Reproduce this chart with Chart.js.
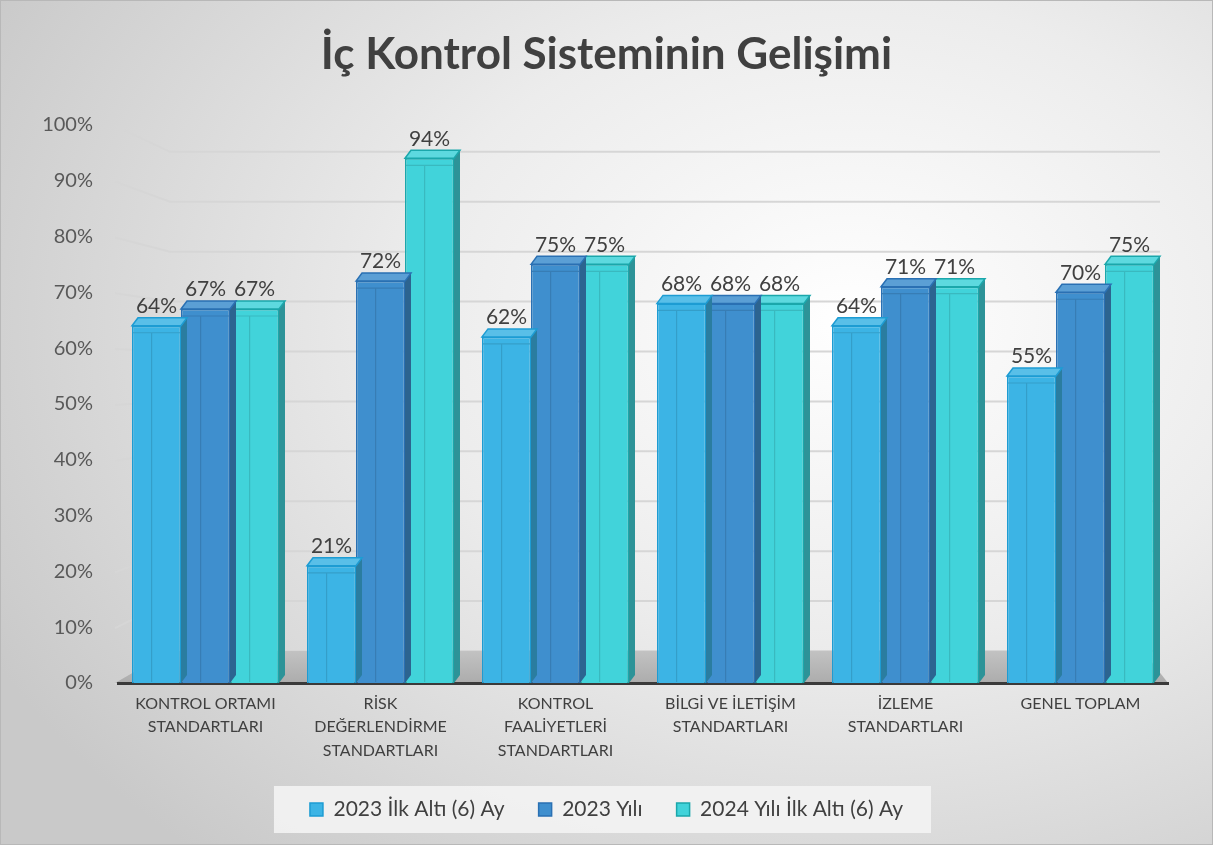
<!DOCTYPE html>
<html><head><meta charset="utf-8">
<script src="https://cdn.jsdelivr.net/npm/chart.js@4.4.1/dist/chart.umd.min.js"></script>
<style>
html,body{margin:0;padding:0;background:#fff;}
#wrap{position:relative;width:1213px;height:845px;
 background:radial-gradient(ellipse 80% 85% at 70% 38%, #ffffff 0%, #ececec 45%, #c9c9c9 100%);
 box-shadow: inset 0 0 0 1px #b8b8b8;}
canvas{display:block}
</style></head><body>
<div id="wrap"><canvas id="c" width="1213" height="845"></canvas></div>
<script>
const categories = [
  ["KONTROL ORTAMI","STANDARTLARI"],
  ["RİSK","DEĞERLENDİRME","STANDARTLARI"],
  ["KONTROL","FAALİYETLERİ","STANDARTLARI"],
  ["BİLGİ VE İLETİŞİM","STANDARTLARI"],
  ["İZLEME","STANDARTLARI"],
  ["GENEL TOPLAM"]
];
const seriesNames = ["2023 İlk Altı (6) Ay","2023 Yılı","2024 Yılı İlk Altı (6) Ay"];
const firstHalf2023 = [64,21,62,68,64,55];
const year2023      = [67,72,75,68,71,70];
const firstHalf2024 = [67,94,75,68,71,75];
const yTickStep = 10;
const yMax = 100;

const fills   = ['#3cb4e5','#3f8fce','#41d3da'];
const borders = ['#1d9cd3','#2a70b3','#1ba7ab'];
const FONT = 'Lato';

function shade(hex, amt){
  const n=parseInt(hex.slice(1),16);let r=n>>16,g=(n>>8)&255,b=n&255;
  if(amt>0){r+= (255-r)*amt;g+=(255-g)*amt;b+=(255-b)*amt;}
  else {r*=1+amt;g*=1+amt;b*=1+amt;}
  return `rgb(${r|0},${g|0},${b|0})`;
}

const backdrop = {
  id:'backdrop',
  beforeDraw(chart){
    const {ctx, chartArea:ca} = chart;
    const ys = chart.scales.y;
    const lg = chart.legend;
    if(lg && lg.legendHitBoxes && lg.legendHitBoxes.length){
      const hb = lg.legendHitBoxes;
      const x0 = hb[0].left - 36, x1 = hb[hb.length-1].left + hb[hb.length-1].width + 28;
      const cy = hb[0].top + hb[0].height/2;
      ctx.save();
      ctx.fillStyle='rgba(243,243,243,0.9)';
      ctx.fillRect(x0, cy-23.5, x1-x0, 47);
      ctx.restore();
    }
    const backBottom = ca.bottom - 32, backTop = ca.top + 27;
    ctx.save();
    ctx.strokeStyle='#d6d6d6'; ctx.lineWidth=2;
    ys.ticks.forEach(t=>{
      const y = ys.getPixelForValue(t.value);
      const f = (ca.bottom - y)/(ca.bottom - ca.top);
      const yb = backBottom - f*(backBottom-backTop);
      ctx.beginPath();
      ctx.moveTo(ca.left-3, y+1);
      ctx.lineTo(ca.left+52, yb);
      ctx.lineTo(ca.right-8, yb);
      ctx.stroke();
    });
    const g = ctx.createLinearGradient(0, backBottom, 0, ca.bottom);
    g.addColorStop(0,'#c2c2c2'); g.addColorStop(1,'#acacac');
    ctx.fillStyle=g;
    ctx.beginPath();
    ctx.moveTo(ca.left-3, ca.bottom);
    ctx.lineTo(ca.left+52, backBottom);
    ctx.lineTo(ca.right-25, backBottom);
    ctx.lineTo(ca.right, ca.bottom);
    ctx.closePath(); ctx.fill();
    ctx.restore();
  }
};

const faces = {
  id:'faces',
  afterDatasetDraw(chart, args){
    const {ctx} = chart;
    const i = args.index;
    const meta = args.meta;
    const dx=6, dy=-8;
    ctx.save();
    meta.data.forEach(el=>{
      const {x,y,base,width} = el.getProps(['x','y','base','width'],true);
      const l=x-width/2, r=x+width/2;
      ctx.fillStyle=shade(fills[i],-0.3);
      ctx.beginPath();ctx.moveTo(r,y);ctx.lineTo(r+dx,y+dy);ctx.lineTo(r+dx,base+dy);ctx.lineTo(r,base);ctx.closePath();ctx.fill();
      ctx.fillStyle=shade(fills[i],0.15);
      ctx.beginPath();ctx.moveTo(l,y);ctx.lineTo(l+dx,y+dy);ctx.lineTo(r+dx,y+dy);ctx.lineTo(r,y);ctx.closePath();ctx.fill();
      ctx.strokeStyle=borders[i];ctx.lineWidth=1.5;ctx.stroke();
      ctx.strokeStyle=shade(fills[i],-0.12);ctx.lineWidth=1.2;
      const xi = l+width*0.4;
      ctx.beginPath();ctx.moveTo(l+1,y+7);ctx.lineTo(r-1,y+7);
      ctx.moveTo(xi,y+7);ctx.lineTo(xi,base-1);ctx.stroke();
    });
    ctx.restore();
  },
  afterDatasetsDraw(chart){
    const {ctx} = chart;
    ctx.save();
    ctx.font = `21px ${FONT}`;
    ctx.fillStyle='#404040';
    ctx.textAlign='center';ctx.textBaseline='bottom';
    chart.data.datasets.forEach((ds,i)=>{
      chart.getDatasetMeta(i).data.forEach((el,j)=>{
        ctx.fillText(ds.data[j]+'%', el.x, el.y-9);
      });
    });
    ctx.restore();
  }
};

const seriesData=[firstHalf2023, year2023, firstHalf2024];
new Chart(document.getElementById('c'),{
  type:'bar',
  data:{
    labels:categories,
    datasets: seriesNames.map((n,i)=>({
      label:n, data:seriesData[i],
      backgroundColor:fills[i], borderColor:borders[i], borderWidth:1.5,
      categoryPercentage:0.84, barPercentage:1.0
    }))
  },
  options:{
    responsive:false, animation:false, devicePixelRatio:1,
    layout:{padding:{left:0,right:0,top:0,bottom:15}},
    plugins:{
      title:{display:true,text:'İç Kontrol Sisteminin Gelişimi',color:'#404040',
        font:{family:FONT,size:44,weight:'bold'},padding:{top:28,bottom:44}},
      legend:{position:'bottom',
        labels:{font:{family:FONT,size:21},color:'#404040',boxWidth:13,boxHeight:13,padding:34}},
      tooltip:{enabled:false}
    },
    scales:{
      y:{min:0,max:yMax,
        ticks:{stepSize:yTickStep,callback:v=>v+'%',color:'#595959',font:{family:FONT,size:20},padding:25},
        grid:{display:false,drawTicks:false},border:{display:false},
        afterFit:s=>{s.width=118;}},
      yRight:{position:'right',min:0,max:yMax,
        ticks:{display:false},grid:{display:false,drawTicks:false},border:{display:false},
        afterFit:s=>{s.width=45;}},
      x:{ticks:{color:'#404040',font:{family:FONT,size:16,lineHeight:1.47},padding:9,maxRotation:0,autoSkip:false},
        grid:{display:false,drawTicks:false},border:{display:true,color:'#3a3a3a',width:3},
        afterFit:s=>{s.height=82;}}
    }
  },
  plugins:[backdrop,faces]
});
</script>
</body></html>
